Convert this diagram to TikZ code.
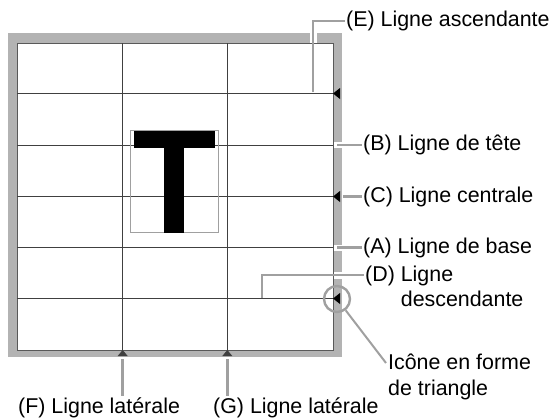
\documentclass[tikz,border=0pt]{standalone}
\usepackage{fontspec}
\setmainfont{Liberation Sans}
\usepackage{xcolor}
\usetikzlibrary{positioning,calc}

\definecolor{bandgray}{HTML}{B3B3B3}
\definecolor{leadgray}{HTML}{A0A0A0}
\definecolor{gridgray}{HTML}{404040}

\begin{document}
\begin{tikzpicture}[
    x=1pt, y=-1pt,
    band/.style={fill=bandgray},
    gridline/.style={draw=gridgray, line width=0.8pt},
    leader/.style={draw=leadgray, line width=2.7pt},
    halo/.style={draw=white, line width=7pt},
    lbl/.style={anchor=west, inner sep=1pt, font=\fontsize{21.4}{24.5}\selectfont},
    marker/.style={fill=black},
]
\useasboundingbox (0,0) rectangle (550,418);

% Frame
\fill[band] (8,33) rectangle (342,357);
\fill[white] (17,43) rectangle (333,350);

% White gaps where leaders cross the frame
\draw[halo] (313,21) -- (313,88);
\draw[halo] (262,275) -- (352,275);
\draw[halo, line width=6pt] (333,145) -- (345,145);
\draw[halo, line width=6pt] (333,247.5) -- (345,247.5);

% Grid
\draw[draw=gray!70!black, line width=0.8pt] (17,43) rectangle (333,350);
\foreach \gy in {93.5,145,196.5,247.5,298.5}
  \draw[gridline] (17,\gy) -- (333,\gy);
\foreach \gx in {122.7,227.3}
  \draw[gridline] (\gx,43) -- (\gx,350);

% Sample glyph
\draw[leadgray, line width=0.8pt] (130.7,130.7) rectangle (218.3,232.3);
\fill (134,131) rectangle (215,148);
\fill (164.3,148) rectangle (184.3,232.5);

% Triangle icons
\foreach \my in {93.5,196.5,298.5}
  \fill[marker] (333,\my) -- (340,\my-5.5) -- (340,\my+5.5) -- cycle;
\foreach \mx in {122.7,227.3}
  \fill[marker, gridgray] (\mx,350) -- (\mx-5,356) -- (\mx+5,356) -- cycle;

% Right labels
\coordinate (eFoot) at (313,92);
\node[lbl] (lblE) at (345,21) {(E) Ligne ascendante};
\draw[leader] (eFoot) |- (lblE.west);

\coordinate (bFoot) at (337,145);
\node[lbl] (lblB) at (362,145) {(B) Ligne de tête};
\draw[leader] (bFoot) -- (lblB.west);

\coordinate (cFoot) at (343,196.5);
\node[lbl] (lblC) at (362,196.5) {(C) Ligne centrale};
\draw[leader] (cFoot) -- (lblC.west);

\coordinate (aFoot) at (337,247.5);
\node[lbl] (lblA) at (362,247.5) {(A) Ligne de base};
\draw[leader] (aFoot) -- (lblA.west);

\coordinate (dFoot) at (262,298);
\coordinate (dBend) at (364,275);
\node[lbl, anchor=north west, align=left] (lblD) at (364,265) {(D) Ligne\\\phantom{(D) }descendante};
\draw[leader] (dFoot) |- (dBend);

% Circled icon
\node[circle, draw=leadgray, line width=2.4pt, minimum size=26pt, inner sep=0pt] (iconRing) at (337,299) {};
\coordinate (iEnd) at (386,363);
\node[lbl, anchor=north west, align=left, font=\fontsize{21.4}{26}\selectfont] (lblI) at (387,353) {Icône en forme\\de triangle};
\draw[leader, line width=2pt] (iconRing) -- (iEnd);

% Bottom labels
\coordinate (fTop) at (122.7,359);
\node[lbl, anchor=base west] (lblF) at (17,413) {(F) Ligne latérale};
\draw[leader] (fTop) -- (fTop |- lblF.north);

\coordinate (gTop) at (227.3,359);
\node[lbl, anchor=base west] (lblG) at (212,413) {(G) Ligne latérale};
\draw[leader] (gTop) -- (gTop |- lblG.north);

\end{tikzpicture}
\end{document}
